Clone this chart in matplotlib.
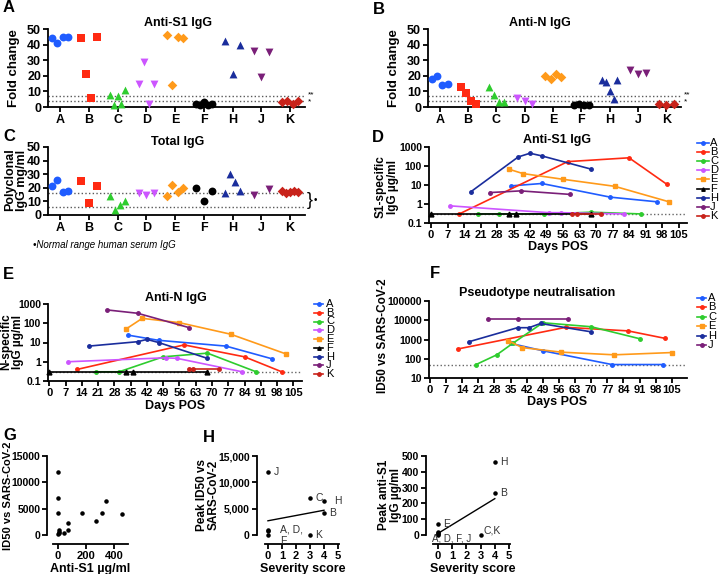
import numpy as np
import matplotlib
matplotlib.use('Agg')
import matplotlib.pyplot as plt
from matplotlib.lines import Line2D
from matplotlib.ticker import NullLocator

plt.rcParams['font.family'] = ['Liberation Sans', 'DejaVu Sans']

W, H = 719, 574

patients = ['A', 'B', 'C', 'D', 'E', 'F', 'H', 'J', 'K']
colors = {'A': '#1f5cff', 'B': '#ff2a12', 'C': '#2ecc2e', 'D': '#cc55ff', 'E': '#ff9a1a',
          'F': '#000000', 'H': '#1a2d9c', 'J': '#7a1f78', 'K': '#c8221a'}
cat_markers = {'A': 'o', 'B': 's', 'C': '^', 'D': 'v', 'E': 'D', 'F': 'o', 'H': '^', 'J': 'v', 'K': 'D'}
line_markers = {'A': 'o', 'B': 'o', 'C': 'o', 'D': 'o', 'E': 's', 'F': '^', 'H': 'o', 'J': 'o', 'K': 'o'}

# A: anti-S1 IgG fold change
s1_fold = {'A': [44, 41, 45, 45], 'B': [44, 21, 6, 45], 'C': [8, 1, 7, 2, 11],
           'D': [15, 29, 2, 15], 'E': [46, 14, 45, 44], 'F': [2, 1, 3, 1, 2],
           'H': [42, 21, 40], 'J': [36, 19, 35], 'K': [3, 4, 2, 4]}
# B: anti-N IgG fold change
n_fold = {'A': [18, 20, 14, 15], 'B': [13, 9, 4, 2], 'C': [13, 8, 3, 3],
          'D': [6, 4, 2], 'E': [20, 18, 21, 19], 'F': [1, 2, 1, 1],
          'H': [17, 16, 10, 5, 17], 'J': [24, 21, 22], 'K': [2, 1, 2]}
fold_thresholds = [7, 4]
# C: total IgG mg/ml
total_igg = {'A': [21, 26, 17, 18], 'B': [25, 9, 21], 'C': [14, 4, 7, 10],
             'D': [16, 15, 16], 'E': [14, 22, 17, 20], 'F': [20, 10, 18],
             'H': [16, 30, 24, 18], 'J': [15, 19], 'K': [18, 16, 17, 18, 17]}
igg_range = [16, 6]

# D: anti-S1 IgG over time
s1_days = {'A': [34, 47, 76, 96], 'B': [12, 58, 84, 100], 'C': [20, 29, 48, 68, 89],
           'D': [8, 50, 55, 82], 'E': [33, 39, 56, 78, 101], 'F': [0, 33, 36, 68],
           'H': [17, 37, 42, 47, 68], 'J': [25, 38, 59], 'K': [60, 62, 72]}
s1_vals = {'A': [9, 12, 2.3, 1.3], 'B': [0.3, 170, 270, 11], 'C': [0.3, 0.3, 0.3, 0.37, 0.3],
           'D': [0.8, 0.35, 0.35, 0.3], 'E': [68, 40, 20, 8.5, 1.3], 'F': [0.3, 0.3, 0.3, 0.3],
           'H': [4.5, 300, 470, 340, 68], 'J': [4, 4.9, 3.2], 'K': [0.3, 0.3, 0.3]}
# E: anti-N IgG over time
n_days = {'A': [34, 47, 76, 96], 'B': [12, 58, 84, 100], 'C': [20, 30, 49, 68, 89],
          'D': [8, 50, 55, 83], 'E': [33, 40, 56, 78, 102], 'F': [0, 33, 36, 68],
          'H': [17, 38, 42, 47, 68], 'J': [25, 38, 60], 'K': [60, 62, 73]}
n_vals = {'A': [24, 13, 6.5, 1.4], 'B': [0.4, 7.5, 1.8, 0.3], 'C': [0.3, 0.3, 1.8, 2.8, 0.3],
          'D': [1.0, 1.6, 1.5, 0.3], 'E': [50, 180, 107, 27, 2.5], 'F': [0.3, 0.3, 0.3, 0.3],
          'H': [6.5, 11, 14.5, 10, 1.5], 'J': [490, 330, 60], 'K': [0.4, 0.4, 0.4]}
igg_lod = 0.3
# F: pseudotype neutralisation
nt_keys = ['A', 'B', 'C', 'E', 'H', 'J']
nt_days = {'A': [35, 49, 79, 101], 'B': [12, 59, 86, 102], 'C': [20, 29, 36, 49, 70, 91],
           'E': [34, 40, 57, 80, 105], 'H': [17, 38, 43, 48, 70], 'J': [25, 38, 60]}
nt_vals = {'A': [630, 260, 50, 50], 'B': [320, 4300, 2800, 1150], 'C': [50, 160, 640, 7400, 4600, 1100],
           'E': [870, 380, 220, 160, 210], 'H': [770, 4100, 4100, 6800, 2500], 'J': [12000, 12000, 12000]}
nt_lod = 50
day_ticks = list(range(0, 106, 7))

# G: ID50 vs anti-S1
g_s1 = [0, 0, 0, 168, 311, 342, 455, 268, 72, 72, 41, 5, 5, 8, 3]
g_id50 = [12000, 7000, 4200, 4100, 4100, 6550, 4000, 2600, 2300, 900, 400, 900, 600, 300, 100]

# H: severity
sev_id50_x = [0, 3, 4, 4, 3, 0, 0, 0]
sev_id50_y = [12000, 7000, 6500, 4100, 50, 1000, 700, 50]
sev_id50_fit_x = [0, 4]
sev_id50_fit_y = [2700, 4700]
sev_s1_x = [4, 4, 3, 0, 0, 0, 0, 0]
sev_s1_y = [460, 265, 3, 70, 20, 10, 5, 1]
sev_s1_fit_x = [0, 4]
sev_s1_fit_y = [10, 230]

fig = plt.figure(figsize=(W / 100, H / 100), dpi=100)


def px(l, t, r, b):
    return [l / W, 1 - b / H, (r - l) / W, (b - t) / H]


def ftext(x, y, s, **kw):
    fig.text(x / W, 1 - y / H, s, **kw)


def style(ax, size=9):
    for s in ['top', 'right']:
        ax.spines[s].set_visible(False)
    for s in ['left', 'bottom']:
        ax.spines[s].set_linewidth(1.3)
    ax.tick_params(width=1.3, length=3.5, pad=1.5, labelsize=size)
    for lab in ax.get_xticklabels() + ax.get_yticklabels():
        lab.set_fontweight('bold')


def cat_panel(box, data, lines):
    ax = fig.add_axes(px(*box))
    for i, p in enumerate(patients):
        v = data[p]
        xs = i + (np.linspace(-0.27, 0.27, len(v)) if len(v) > 1 else np.zeros(1))
        m = cat_markers[p]
        s = 24 if m == 'D' else 32
        ax.scatter(xs, v, marker=m, s=s, color=colors[p], linewidths=0, zorder=3, clip_on=False)
    for t in lines:
        ax.axhline(t, color='0.35', ls=':', lw=1, zorder=1)
    ax.set_xlim(-0.42, 8.52)
    ax.set_ylim(0, 50)
    ax.set_yticks([0, 10, 20, 30, 40, 50])
    ax.set_xticks(range(len(patients)))
    ax.set_xticklabels(patients)
    style(ax)
    return ax


def time_panel(box, keys, days, vals, lod, ylim, yticks, ylabels, xlim):
    ax = fig.add_axes(px(*box))
    ax.set_yscale('log')
    ax.axhline(lod, color='0.4', ls=':', lw=1, zorder=1)
    for k in keys:
        m = line_markers[k]
        ms = 3.5 if m != 'o' else 2.5
        ax.plot(days[k], vals[k], color=colors[k], marker=m, ms=ms, lw=1.2, clip_on=False, zorder=3)
    ax.set_ylim(*ylim)
    ax.set_xlim(*xlim)
    ax.set_yticks(yticks)
    ax.set_yticklabels(ylabels)
    ax.yaxis.set_minor_locator(NullLocator())
    ax.set_xticks(day_ticks)
    style(ax, 7.5)
    ax.tick_params(axis='x', labelsize=8)
    return ax


def legend_col(keys, x0, x1, xt, y0, dy):
    for i, k in enumerate(keys):
        y = 1 - (y0 + i * dy) / H
        fig.add_artist(Line2D([x0 / W, x1 / W], [y, y], color=colors[k], lw=1.2,
                              transform=fig.transFigure))
        fig.add_artist(Line2D([(x0 + x1) / 2 / W], [y], color=colors[k], marker=line_markers[k],
                              ms=2.5, transform=fig.transFigure))
        fig.text(xt / W, y, k, va='center', ha='left', fontsize=8)


def offset_panel(box, yout, xlim, ylim, yticks, ylabels, xticks):
    ax = fig.add_axes(px(*box))
    ax.set_xlim(*xlim)
    ax.set_ylim(*ylim)
    ax.spines['left'].set_position(('outward', yout))
    ax.spines['left'].set_bounds(yticks[0], yticks[-1])
    ax.set_yticks(yticks)
    ax.set_yticklabels(ylabels)
    ax.set_xticks(xticks)
    style(ax, 8)
    ax.tick_params(axis='y', labelsize=7.5)
    return ax


# ---- A ----
axA = cat_panel((48, 29, 305, 107), s1_fold, fold_thresholds)
axA.text(1.01, fold_thresholds[0] + 0.8, '**', transform=axA.get_yaxis_transform(), va='center', fontsize=6)
axA.text(1.01, fold_thresholds[1] - 0.8, '*', transform=axA.get_yaxis_transform(), va='center', fontsize=6)
ftext(178, 23, 'Anti-S1 IgG', ha='center', va='center', fontsize=9, weight='bold')
ftext(14, 68, 'Fold change', rotation=90, ha='center', va='center', fontsize=9.5, weight='bold')
ftext(3, 8, 'A', fontsize=12, weight='bold', va='center')

# ---- B ----
axB = cat_panel((428, 29, 681, 107), n_fold, fold_thresholds)
axB.text(1.01, fold_thresholds[0] + 0.8, '**', transform=axB.get_yaxis_transform(), va='center', fontsize=6)
axB.text(1.01, fold_thresholds[1] - 0.8, '*', transform=axB.get_yaxis_transform(), va='center', fontsize=6)
ftext(540, 23, 'Anti-N IgG', ha='center', va='center', fontsize=9, weight='bold')
ftext(394, 68, 'Fold change', rotation=90, ha='center', va='center', fontsize=9.5, weight='bold')
ftext(373, 10, 'B', fontsize=12, weight='bold', va='center')

# ---- C ----
axC = cat_panel((48, 147, 305, 215), total_igg, igg_range)
axC.text(1.005, np.mean(igg_range), '}', transform=axC.get_yaxis_transform(), va='center', fontsize=13)
axC.text(1.035, np.mean(igg_range), '•', transform=axC.get_yaxis_transform(), va='center', fontsize=7)
ftext(178, 142, 'Total IgG', ha='center', va='center', fontsize=9, weight='bold')
ftext(16, 180, 'Polyclonal\nIgG mg/ml', rotation=90, ha='center', va='center', fontsize=9,
      weight='bold', linespacing=1.0)
ftext(3, 136, 'C', fontsize=12, weight='bold', va='center')
ftext(33, 245, '•Normal range human serum IgG', fontsize=7, style='italic', va='center')

# ---- D ----
axD = time_panel((429, 147, 687, 223), patients, s1_days, s1_vals, igg_lod, (0.1, 1000),
                 [0.1, 1, 10, 100, 1000], ['0.1', '1', '10', '100', '1000'], (-0.85, 108.6))
ftext(557, 140, 'Anti-S1 IgG', ha='center', va='center', fontsize=9, weight='bold')
ftext(558, 247, 'Days POS', ha='center', va='center', fontsize=9, weight='bold')
ftext(387, 187, 'S1-specific\nIgG µg/ml', rotation=90, ha='center', va='center', fontsize=8.5,
      weight='bold', linespacing=1.0)
ftext(372, 138, 'D', fontsize=12, weight='bold', va='center')
legend_col(patients, 697, 709, 710, 143, 9.1)

# ---- E ----
axE = time_panel((48, 304, 302, 381), patients, n_days, n_vals, igg_lod, (0.1, 1000),
                 [0.1, 1, 10, 100, 1000], ['0.1', '1', '10', '100', '1000'], (-0.55, 108.7))
ftext(176, 298, 'Anti-N IgG', ha='center', va='center', fontsize=9, weight='bold')
ftext(175, 406, 'Days POS', ha='center', va='center', fontsize=9, weight='bold')
ftext(12, 342, 'N-specific\nIgG µg/ml', rotation=90, ha='center', va='center', fontsize=8.5,
      weight='bold', linespacing=1.0)
ftext(3, 275, 'E', fontsize=12, weight='bold', va='center')
legend_col(patients, 314, 323, 326, 304, 8.75)

# ---- F ----
axF = time_panel((429, 301, 687, 378), nt_keys, nt_days, nt_vals, nt_lod, (10, 100000),
                 [10, 100, 1000, 10000, 100000], ['10', '100', '1000', '10000', '100000'], (-0.43, 111.6))
ftext(537, 293, 'Pseudotype neutralisation', ha='center', va='center', fontsize=9, weight='bold')
ftext(557, 402, 'Days POS', ha='center', va='center', fontsize=9, weight='bold')
ftext(383, 336, 'ID50 vs SARS-CoV-2', rotation=90, ha='center', va='center', fontsize=8.5, weight='bold')
ftext(430, 273, 'F', fontsize=12, weight='bold', va='center')
legend_col(nt_keys, 697, 706, 708, 298, 9.4)

# ---- G ----
axG = offset_panel((53, 456, 128, 544), 4, (-35.7, 500), (-1709, 15000),
                   [0, 5000, 10000, 15000], ['0', '5000', '10000', '15000'], [0, 200, 400])
axG.scatter(g_s1, g_id50, s=5, color='black', zorder=3, clip_on=False)
ftext(90, 569, 'Anti-S1 µg/ml', ha='center', va='center', fontsize=9, weight='bold')
ftext(8, 496, 'ID50 vs SARS-CoV-2', rotation=90, ha='center', va='center', fontsize=8, weight='bold')
ftext(3, 436, 'G', fontsize=12, weight='bold', va='center')

# ---- H left ----
axH1 = offset_panel((265, 456, 339, 544), 6, (-0.21, 5.07), (-1709, 15000),
                    [0, 5000, 10000, 15000], ['0', '5,000', '10,000', '15,000'], [0, 1, 2, 3, 4, 5])
axH1.scatter(sev_id50_x, sev_id50_y, s=5, color='black', zorder=3, clip_on=False)
axH1.plot(sev_id50_fit_x, sev_id50_fit_y, color='black', lw=1)
lab_kw = dict(fontsize=7.5, color='0.2', va='center')
axH1.annotate('J', (sev_id50_x[0], sev_id50_y[0]), xytext=(4, 0), textcoords='offset points', **lab_kw)
axH1.annotate('C', (sev_id50_x[1], sev_id50_y[1]), xytext=(4, 0), textcoords='offset points', **lab_kw)
axH1.annotate('H', (sev_id50_x[2], sev_id50_y[2]), xytext=(7, 0), textcoords='offset points', **lab_kw)
axH1.annotate('B', (sev_id50_x[3], sev_id50_y[3]), xytext=(4, 0), textcoords='offset points', **lab_kw)
axH1.annotate('K', (sev_id50_x[4], sev_id50_y[4]), xytext=(4, 0), textcoords='offset points', **lab_kw)
axH1.annotate('A, D,\nF', (sev_id50_x[5], sev_id50_y[5]), xytext=(9, -4), textcoords='offset points',
              linespacing=1.1, **lab_kw)
ftext(303, 569, 'Severity score', ha='center', va='center', fontsize=9, weight='bold')
ftext(208, 495, 'Peak ID50 vs\nSARS-CoV-2', rotation=90, ha='center', va='center', fontsize=8.5,
      weight='bold', linespacing=1.0)
ftext(203, 437, 'H', fontsize=12, weight='bold', va='center')

# ---- H right ----
axH2 = offset_panel((433, 456, 510, 544), 5, (-0.35, 5.07), (-57, 500),
                    [0, 100, 200, 300, 400, 500], ['0', '100', '200', '300', '400', '500'], [0, 1, 2, 3, 4, 5])
axH2.scatter(sev_s1_x, sev_s1_y, s=5, color='black', zorder=3, clip_on=False)
axH2.plot(sev_s1_fit_x, sev_s1_fit_y, color='black', lw=1)
axH2.annotate('H', (sev_s1_x[0], sev_s1_y[0]), xytext=(4, 0), textcoords='offset points', **lab_kw)
axH2.annotate('B', (sev_s1_x[1], sev_s1_y[1]), xytext=(4, 0), textcoords='offset points', **lab_kw)
axH2.annotate('C,K', (sev_s1_x[2], sev_s1_y[2]), xytext=(2, 3), textcoords='offset points', **lab_kw)
axH2.annotate('E', (sev_s1_x[3], sev_s1_y[3]), xytext=(4, 0), textcoords='offset points', **lab_kw)
axH2.annotate('A, D, F, J', (sev_s1_x[4], sev_s1_y[4]), xytext=(-4, -5), textcoords='offset points',
              fontsize=7, color='0.2', va='center')
ftext(473, 569, 'Severity score', ha='center', va='center', fontsize=9, weight='bold')
ftext(390, 495, 'Peak anti-S1\nIgG µg/ml', rotation=90, ha='center', va='center', fontsize=8.5,
      weight='bold', linespacing=1.0)

fig.savefig('out.png', dpi=100)
